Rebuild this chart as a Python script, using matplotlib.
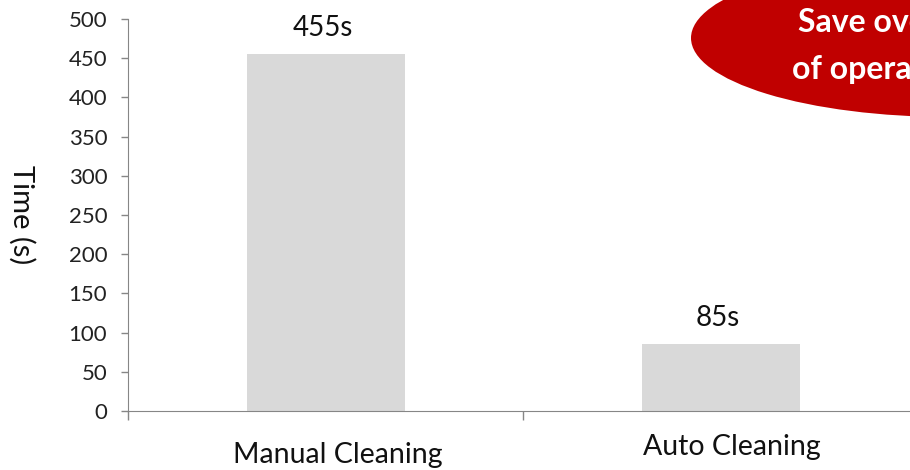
import matplotlib
matplotlib.use("Agg")
import matplotlib.pyplot as plt
from matplotlib.patches import Ellipse
import matplotlib.transforms as mtransforms

# 数据
categories = ["Manual Cleaning", "Auto Cleaning"]
times = [455, 85]
value_labels = ["455s", "85s"]
callout_lines = ["Save over 80%", "of operation time"]

plt.rcParams['font.family'] = ['Lato', 'DejaVu Sans']

W, H = 910, 470
fig = plt.figure(figsize=(W / 100, H / 100), dpi=100)
# 坐标轴右端超出画布（原图被裁切）
ax = fig.add_axes([128 / W, 59 / H, 790 / W, 392 / H])

x = list(range(len(categories)))
ax.bar(x, times, width=0.4, color='#d9d9d9', zorder=2)

ax.set_xlim(-0.5, len(categories) - 0.5)
ax.set_ylim(0, 500)
ax.set_yticks(range(0, 501, 50))
ax.tick_params(axis='y', labelsize=16, colors='#868686', labelcolor='#222222',
               length=5, width=1, direction='out', pad=10)
ax.set_xticks([-0.5, 0.5, 1.5])
ax.set_xticklabels([])
ax.tick_params(axis='x', colors='#868686', length=6.5, width=1, direction='out')

for s in ['top', 'right']:
    ax.spines[s].set_visible(False)
for s in ['left', 'bottom']:
    ax.spines[s].set_color('#868686')

# 分类标签（原图高度略有不同）
trans = mtransforms.blended_transform_factory(ax.transData, ax.transAxes)
label_y = [-0.112, -0.092]
for i, (c, ly) in enumerate(zip(categories, label_y)):
    ax.text(i + 0.03, ly, c, transform=trans, ha='center', va='center',
            fontsize=20.5, color='#111111')

# 数值标签
for i, (v, t) in enumerate(zip(times, value_labels)):
    ax.annotate(t, (i, v), xytext=(-2, 19), textcoords='offset points',
                ha='center', va='center', fontsize=20, color='#111111')

ax.set_ylabel("Time (s)", fontsize=21, rotation=270, va='center', color='#111111')
ax.yaxis.set_label_coords(-0.134, 0.5)

# 右上角红色椭圆标注
ell = Ellipse((950 / W, 1 - 38 / H), 2 * 259 / W, 2 * 79 / H,
              transform=fig.transFigure, facecolor='#c00000', edgecolor='none',
              zorder=5)
fig.patches.append(ell)
fig.text(798 / W, 1 - 23 / H, callout_lines[0], ha='left', va='center',
         fontsize=23, fontweight='bold', color='white', zorder=6)
fig.text(792 / W, 1 - 70 / H, callout_lines[1], ha='left', va='center',
         fontsize=23, fontweight='bold', color='white', zorder=6)

fig.savefig("out.png", dpi=100)
